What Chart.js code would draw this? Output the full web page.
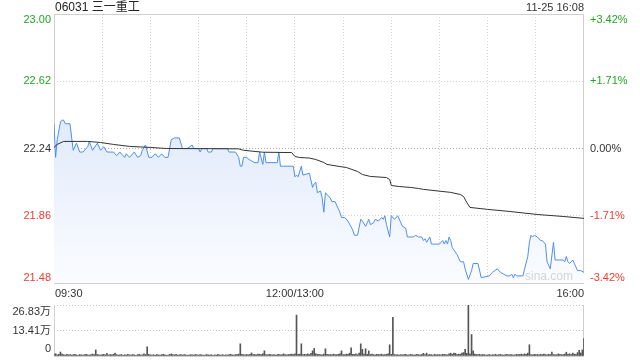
<!DOCTYPE html>
<html>
<head>
<meta charset="utf-8">
<script src="https://cdn.jsdelivr.net/npm/chart.js"></script>
<style>
  body{margin:0;background:#fff;}
  #wrap{position:relative;width:640px;height:360px;overflow:hidden;}
  #price{position:absolute;left:0;top:0;width:640px;height:300px;}
  #vol{position:absolute;left:0;top:300px;width:640px;height:60px;}
</style>
</head>
<body>
<div id="wrap">
  <canvas id="price" width="640" height="300"></canvas>
  <canvas id="vol" width="640" height="60"></canvas>
</div>
<script>

// ********* Data (minutes from 09:30, lunch break removed) *********

const stockName = '06031 三一重工';
const stampText = '11-25 16:08';
const prevClose = 22.24;

const priceMin = [0,1,2,4,5,6,7,10,11,12,14,16,17,18,21,22,24,27,29,31,33,35,37,39,41,44,45,47,50,52,54,55,57,59,61,63,65,67,69,71,73,75,78,80,83,86,87,90,91,92,95,96,98,99,108,109,113,115,116,117,118,120,121,123,125,127,128,130,131,132,139,140,141,149,150,151,152,154,155,159,161,162,163,164,166,167,168,169,172,173,175,177,178,179,181,183,186,187,189,191,192,194,196,197,199,200,202,204,205,206,207,209,210,212,214,217,219,220,224,225,227,229,230,231,232,234,235,240,242,243,244,245,246,247,248,251,253,255,256,258,260,261,264,266,271,273,276,278,280,282,284,285,286,287,288,292,293,295,296,297,298,299,301,303,304,306,307,309,311,312,317,318,319,320,321,323,324,326,328,330];
const priceVal = [22.38,22.19,22.29,22.39,22.40,22.40,22.38,22.38,22.30,22.23,22.27,22.22,22.22,22.22,22.25,22.28,22.23,22.27,22.23,22.25,22.22,22.22,22.22,22.20,22.22,22.19,22.21,22.19,22.22,22.19,22.20,22.23,22.26,22.19,22.19,22.21,22.19,22.21,22.19,22.19,22.29,22.30,22.30,22.24,22.24,22.26,22.24,22.24,22.22,22.24,22.24,22.22,22.22,22.24,22.24,22.22,22.22,22.19,22.14,22.14,22.19,22.19,22.18,22.17,22.16,22.16,22.22,22.15,22.22,22.16,22.16,22.22,22.14,22.14,22.08,22.09,22.08,22.14,22.09,22.10,22.02,22.04,22.05,21.99,22.00,21.96,21.88,21.99,21.96,21.94,21.94,21.90,21.88,21.85,21.85,21.83,21.78,21.75,21.75,21.84,21.83,21.80,21.84,21.81,21.82,21.84,21.83,21.85,21.84,21.86,21.81,21.74,21.86,21.84,21.86,21.80,21.79,21.74,21.74,21.75,21.74,21.74,21.72,21.73,21.71,21.74,21.70,21.70,21.72,21.70,21.72,21.70,21.74,21.72,21.68,21.64,21.60,21.60,21.56,21.50,21.55,21.59,21.59,21.51,21.52,21.54,21.56,21.54,21.53,21.52,21.52,21.53,21.51,21.53,21.52,21.52,21.56,21.63,21.71,21.75,21.74,21.75,21.74,21.72,21.72,21.70,21.60,21.56,21.71,21.61,21.61,21.60,21.63,21.60,21.59,21.61,21.59,21.55,21.55,21.54];

const avgMin = [0,2,6,10,21,29,37,47,60,70,115,118,130,148,150,153,159,163,168,170,178,182,189,192,197,207,209,210,215,222,227,230,247,253,255,257,259,270,284,301,317,330];
const avgVal = [22.246,22.263,22.280,22.280,22.280,22.274,22.263,22.252,22.246,22.240,22.238,22.230,22.219,22.217,22.195,22.189,22.186,22.178,22.161,22.150,22.138,22.133,22.110,22.093,22.082,22.076,22.065,22.031,22.025,22.020,22.014,22.009,21.992,21.980,21.969,21.935,21.907,21.896,21.884,21.867,21.856,21.845];

// volume per minute, in 万 shares
const volumes = [
  0.8,1.2,0.6,0.9,2.1,1.0,0.7,0.5,0.9,0.6, 0.8,0.5,0.7,0.9,0.6,0.4,0.8,0.6,0.5,0.7, 0.9,0.6,0.5,0.8,1.0,0.7,3.2,0.8,0.6,0.5,
  0.7,0.9,0.6,1.4,0.5,0.8,0.6,0.9,1.6,0.7, 0.5,0.6,0.8,0.4,0.7,0.5,0.9,0.6,0.5,0.8, 0.6,0.4,0.7,0.9,0.5,0.6,1.2,0.8,4.8,0.9,
  0.6,0.5,0.7,0.4,0.8,0.6,0.5,0.7,0.9,0.6, 0.4,0.5,0.8,1.1,0.7,0.6,0.9,0.5,0.6,0.8, 0.5,0.7,0.6,0.4,0.5,0.7,0.6,0.5,0.8,0.6,
  0.5,0.7,0.6,0.4,0.5,0.8,0.6,0.5,0.7,0.4, 0.6,0.5,0.8,0.6,0.5,0.7,0.4,0.6,0.5,0.7, 0.9,0.6,0.5,0.8,0.7,1.0,6.4,0.9,0.7,0.6,
  0.8,0.6,0.9,1.6,0.7,0.8,0.6,1.0,0.9,0.7, 1.2,2.7,0.8,0.6,0.9,0.7,0.6,0.8,0.5,0.7, 0.9,0.6,0.8,1.1,0.7,0.6,0.8,0.9,1.0,0.8,
  1.2,21.5,0.9,1.0,6.4,0.8,0.9,0.7,1.1,0.8, 1.4,2.7,4.0,1.2,0.8,0.9,0.7,0.6,1.0,3.8, 0.9,0.7,0.8,0.6,1.0,0.8,0.7,0.9,1.2,2.7,
  0.8,0.7,1.0,0.9,1.5,4.3,0.9,0.8,1.1,0.7, 1.6,6.4,3.5,1.0,3.8,0.9,2.7,0.8,1.0,0.7, 0.6,0.9,0.8,0.7,1.0,0.6,0.8,0.9,1.2,5.9,
  0.9,20.4,0.8,0.6,0.7,0.5,0.8,0.6,0.7,0.9, 0.5,0.6,0.8,0.7,0.5,0.6,0.9,0.7,0.6,0.8, 1.4,0.7,1.5,0.6,0.8,0.7,0.5,0.9,0.6,0.8,
  0.7,0.6,0.9,0.8,0.7,0.6,1.2,1.5,0.9,1.6, 1.4,0.8,1.0,0.9,1.5,1.8,3.5,1.4,26.83,1.2, 11.3,2.7,1.0,0.8,0.7,0.9,0.6,0.8,0.7,0.5,
  0.6,0.8,0.5,0.7,0.6,0.9,0.5,0.7,0.8,0.6, 0.5,0.7,0.9,0.6,0.8,0.7,0.5,0.6,0.9,0.7, 0.8,1.0,0.7,1.1,0.9,1.5,5.9,0.8,0.6,0.9,
  0.7,0.8,0.6,0.9,0.7,1.0,0.8,0.6,0.9,0.7, 2.0,0.8,0.6,0.7,1.1,0.9,0.7,0.8,1.0,2.0, 0.9,1.2,0.8,1.5,1.0,0.9,1.8,3.0,1.6,3.2,
  9.1
];

const priceTicks = [21.48, 21.86, 22.24, 22.62, 23.00];
const pctTicks = ['-3.42%', '-1.71%', '0.00%', '+1.71%', '+3.42%'];
const gridMinutes = [0,30,60,90,120,150,180,210,240,270,300,330];
const timeLabelMin = [0, 150, 330];
const timeLabels = ['09:30', '12:00/13:00', '16:00'];
const volTicks = [0, 13.41, 26.83];
const volLabels = ['0', '13.41万', '26.83万'];


// ********* Helpers *********

const FONT = 'Arial, "Liberation Sans", "Noto Sans CJK SC", sans-serif';
const upColor = '#22a522', downColor = '#f03c32', flatColor = '#333';

function tickColor(v){
  if (Math.abs(v - prevClose) < 0.001) return flatColor;
  return v > prevClose ? upColor : downColor;
}

const priceData = priceMin.map((m, i) => ({x: m, y: priceVal[i]}));
const avgData = avgMin.map((m, i) => ({x: m, y: avgVal[i]}));
const volData = volumes.map((v, i) => ({x: i, y: v}));


// ********* Frame + labels for the price panel *********

const priceDeco = {
  id: 'priceDeco',
  beforeDatasetsDraw(chart){
    const {ctx, chartArea: a} = chart;
    ctx.save();
    ctx.strokeStyle = '#cfcfcf';
    ctx.lineWidth = 1;
    ctx.strokeRect(Math.round(a.left) + 0.5, Math.round(a.top) + 0.5,
                   Math.round(a.right - a.left) - 1, Math.round(a.bottom - a.top));
    ctx.restore();
  },
  afterDraw(chart){
    const {ctx, chartArea: a, scales} = chart;
    const y = scales.y, x = scales.x;
    ctx.save();
    ctx.font = '12px ' + FONT;
    ctx.textBaseline = 'middle';
    ctx.fillStyle = '#222';
    ctx.textAlign = 'left';
    ctx.fillText(stockName, a.left + 1, 8);
    ctx.font = '11px ' + FONT;
    ctx.fillStyle = '#333';
    ctx.textAlign = 'right';
    ctx.fillText(stampText, a.right, 8);

    priceTicks.forEach((v, i) => {
      let py = y.getPixelForValue(v);
      if (i === priceTicks.length - 1) py += 6;
      if (i === 0) py -= 5;
      ctx.fillStyle = tickColor(v);
      ctx.textAlign = 'right';
      ctx.fillText(v.toFixed(2), a.left - 3, py);
      ctx.textAlign = 'left';
      ctx.fillText(pctTicks[i], a.right + 6, py);
    });

    ctx.fillStyle = '#333';
    timeLabelMin.forEach((m, i) => {
      ctx.textAlign = i === 0 ? 'left' : (i === timeLabelMin.length - 1 ? 'right' : 'center');
      ctx.fillText(timeLabels[i], x.getPixelForValue(m) + (i === 0 ? 1 : 0), a.bottom + 11);
    });

    ctx.font = '12px ' + FONT;
    ctx.fillStyle = '#d4d4d4';
    ctx.textAlign = 'right';
    ctx.fillText('sina.com', a.right - 11, a.bottom - 6);
    ctx.restore();
  }
};


// ********* Price chart *********

new Chart(document.getElementById('price'), {
  type: 'line',
  data: {
    datasets: [
      {
        data: avgData,
        borderColor: '#333',
        borderWidth: 1,
        pointRadius: 0,
        fill: false,
        order: 0
      },
      {
        data: priceData,
        borderColor: '#4f8ef2',
        borderWidth: 1,
        pointRadius: 0,
        fill: 'start',
        order: 1,
        backgroundColor: (c) => {
          const area = c.chart.chartArea;
          if (!area) return 'rgba(0,0,0,0)';
          const g = c.chart.ctx.createLinearGradient(0, area.top, 0, area.bottom);
          g.addColorStop(0, '#cfdff9');
          g.addColorStop(1, '#fbfcff');
          return g;
        }
      }
    ]
  },
  options: {
    responsive: false,
    animation: false,
    events: [],
    layout: {padding: {left: 54, right: 56, top: 14, bottom: 17}},
    plugins: {legend: {display: false}, tooltip: {enabled: false}},
    scales: {
      x: {
        type: 'linear', min: 0, max: 330,
        afterBuildTicks: s => { s.ticks = gridMinutes.map(v => ({value: v})); },
        ticks: {display: false},
        grid: {
          drawTicks: false,
          color: c => (c.tick && (c.tick.value === 0 || c.tick.value === 330)) ? 'rgba(0,0,0,0)' : '#d2d2d2'
        },
        border: {display: false, dash: [1, 2]}
      },
      y: {
        type: 'linear', min: 21.48, max: 23.00,
        afterBuildTicks: s => { s.ticks = priceTicks.map(v => ({value: v})); },
        ticks: {display: false},
        grid: {
          drawTicks: false,
          color: c => {
            if (!c.tick) return '#d2d2d2';
            const v = c.tick.value;
            if (v === 21.48 || v === 23.00) return 'rgba(0,0,0,0)';
            return Math.abs(v - prevClose) < 0.001 ? '#aaa' : '#d2d2d2';
          }
        },
        border: {display: false, dash: [1, 2]}
      }
    }
  },
  plugins: [priceDeco]
});


// ********* Volume chart *********

const volDeco = {
  id: 'volDeco',
  beforeDatasetsDraw(chart){
    const {ctx, chartArea: a} = chart;
    ctx.save();
    ctx.strokeStyle = '#cfcfcf';
    ctx.lineWidth = 1;
    ctx.beginPath();
    ctx.moveTo(Math.round(a.left) + 0.5, a.top);
    ctx.lineTo(Math.round(a.left) + 0.5, a.bottom + 0.5);
    ctx.lineTo(Math.round(a.right) - 0.5, a.bottom + 0.5);
    ctx.lineTo(Math.round(a.right) - 0.5, a.top);
    ctx.stroke();
    ctx.restore();
  },
  afterDraw(chart){
    const {ctx, chartArea: a, scales} = chart;
    ctx.save();
    ctx.font = '11px ' + FONT;
    ctx.fillStyle = '#333';
    ctx.textAlign = 'right';
    ctx.textBaseline = 'middle';
    volTicks.forEach((v, i) => {
      let py = scales.y.getPixelForValue(v);
      if (i === 0) py -= 7;
      if (i === volTicks.length - 1) py += 7;
      ctx.fillText(volLabels[i], a.left - 3, py);
    });
    ctx.restore();
  }
};

new Chart(document.getElementById('vol'), {
  type: 'bar',
  data: {
    datasets: [{
      data: volData,
      backgroundColor: '#555',
      barThickness: 1,
      borderWidth: 0
    }]
  },
  options: {
    responsive: false,
    animation: false,
    events: [],
    layout: {padding: {left: 54, right: 56, top: 5, bottom: 4}},
    plugins: {legend: {display: false}, tooltip: {enabled: false}},
    scales: {
      x: {
        type: 'linear', min: 0, max: 330, offset: false,
        display: false
      },
      y: {
        min: 0, max: 26.83,
        afterBuildTicks: s => { s.ticks = volTicks.map(v => ({value: v})); },
        ticks: {display: false},
        grid: {
          drawTicks: false,
          color: c => (c.tick && c.tick.value === 0) ? 'rgba(0,0,0,0)' : '#c8c8c8'
        },
        border: {display: false, dash: [1, 2]}
      }
    }
  },
  plugins: [volDeco]
});

</script>
</body>
</html>
